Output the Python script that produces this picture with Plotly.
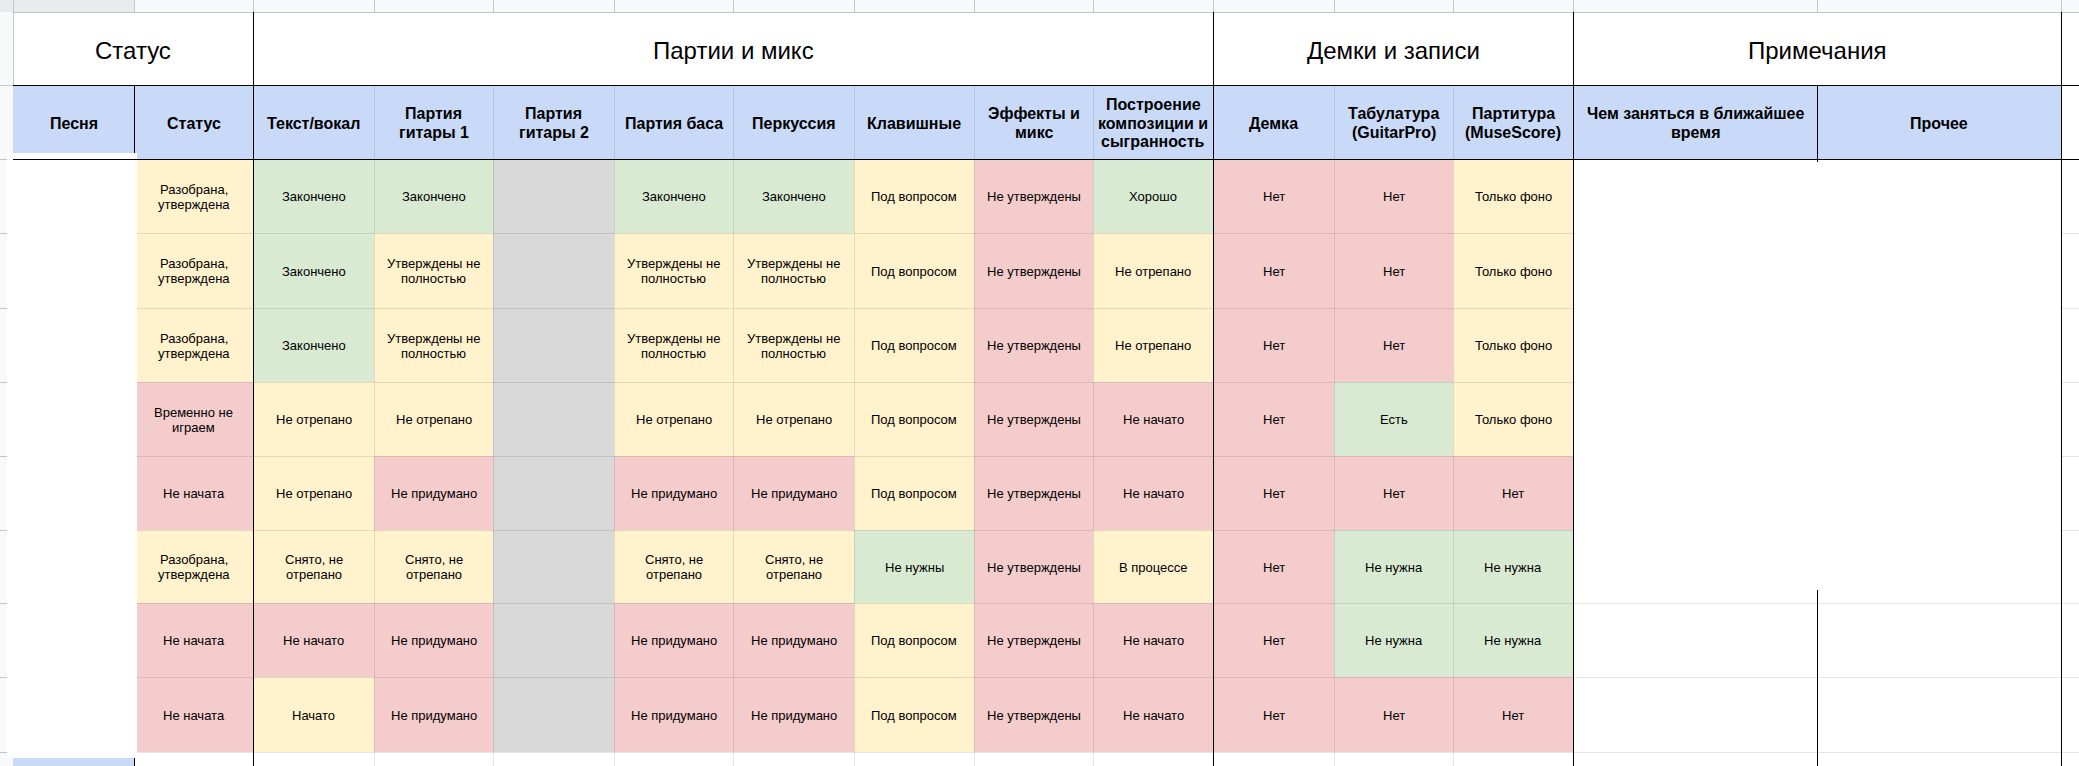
import plotly.graph_objects as go

# ---------------- data ----------------
col_letters = ["A", "B", "C", "D", "E", "F", "G", "H", "I", "J", "K", "L", "M", "N", "O"]

group_titles = ["Статус", "Партии и микс", "Демки и записи", "Примечания"]
group_first_col = [0, 2, 10, 13]
group_last_col = [1, 9, 12, 14]

header_labels = [
    "Песня", "Статус", "Текст/вокал", "Партия\nгитары 1", "Партия\nгитары 2",
    "Партия баса", "Перкуссия", "Клавишные", "Эффекты и\nмикс",
    "Построение\nкомпозиции и\nсыгранность", "Демка", "Табулатура\n(GuitarPro)",
    "Партитура\n(MuseScore)", "Чем заняться в ближайшее\nвремя", "Прочее",
]

song_col = ["", "", "", "", "", "", "", ""]
status_col = ["Разобрана,\nутверждена", "Разобрана,\nутверждена", "Разобрана,\nутверждена",
              "Временно не\nиграем", "Не начата", "Разобрана,\nутверждена", "Не начата", "Не начата"]
vocal_col = ["Закончено", "Закончено", "Закончено", "Не отрепано", "Не отрепано",
             "Снято, не\nотрепано", "Не начато", "Начато"]
guitar1_col = ["Закончено", "Утверждены не\nполностью", "Утверждены не\nполностью", "Не отрепано",
               "Не придумано", "Снято, не\nотрепано", "Не придумано", "Не придумано"]
guitar2_col = ["", "", "", "", "", "", "", ""]
bass_col = ["Закончено", "Утверждены не\nполностью", "Утверждены не\nполностью", "Не отрепано",
            "Не придумано", "Снято, не\nотрепано", "Не придумано", "Не придумано"]
perc_col = ["Закончено", "Утверждены не\nполностью", "Утверждены не\nполностью", "Не отрепано",
            "Не придумано", "Снято, не\nотрепано", "Не придумано", "Не придумано"]
keys_col = ["Под вопросом", "Под вопросом", "Под вопросом", "Под вопросом", "Под вопросом",
            "Не нужны", "Под вопросом", "Под вопросом"]
fx_col = ["Не утверждены", "Не утверждены", "Не утверждены", "Не утверждены",
          "Не утверждены", "Не утверждены", "Не утверждены", "Не утверждены"]
arrange_col = ["Хорошо", "Не отрепано", "Не отрепано", "Не начато", "Не начато",
               "В процессе", "Не начато", "Не начато"]
demo_col = ["Нет", "Нет", "Нет", "Нет", "Нет", "Нет", "Нет", "Нет"]
tab_col = ["Нет", "Нет", "Нет", "Есть", "Нет", "Не нужна", "Не нужна", "Нет"]
score_col = ["Только фоно", "Только фоно", "Только фоно", "Только фоно", "Нет",
             "Не нужна", "Не нужна", "Нет"]

data_columns = [song_col, status_col, vocal_col, guitar1_col, guitar2_col, bass_col, perc_col,
                keys_col, fx_col, arrange_col, demo_col, tab_col, score_col]

GREEN, YELLOW, RED, GRAY = "#d9ead3", "#fff2cc", "#f4cccc", "#d9d9d9"
status_fill = {
    "Закончено": GREEN, "Хорошо": GREEN, "Есть": GREEN, "Не нужны": GREEN, "Не нужна": GREEN,
    "Разобрана, утверждена": YELLOW, "Утверждены не полностью": YELLOW, "Под вопросом": YELLOW,
    "Не отрепано": YELLOW, "Только фоно": YELLOW, "Снято, не отрепано": YELLOW,
    "В процессе": YELLOW, "Начато": YELLOW,
    "Не утверждены": RED, "Нет": RED, "Временно не играем": RED, "Не начата": RED,
    "Не придумано": RED, "Не начато": RED,
}

# ---------------- layout constants ----------------
W, H = 2079, 766
col_edges = [13, 134, 253, 374, 493, 614, 733, 854, 974, 1093, 1213, 1334, 1453, 1573, 1817, 2061]
LETTER_BOTTOM = 12
TITLE_BOTTOM = 85
HEADER_BOTTOM = 159
row_edges = [159, 233, 308, 382, 456, 530, 603, 677, 752]
FONT = "Arial, Liberation Sans, Arimo, sans-serif"
GRID = "rgba(0,0,0,0.10)"
CHROME = "#c4c7c5"
BLUE = "#c9daf8"

shapes = []
annotations = []


def rect(x0, y0, x1, y1, fill):
    shapes.append(dict(type="rect", xref="x", yref="y", x0=x0, y0=y0, x1=x1, y1=y1,
                       fillcolor=fill, line=dict(width=0), layer="above"))


def line(x0, y0, x1, y1, color, width=1):
    shapes.append(dict(type="line", xref="x", yref="y", x0=x0, y0=y0, x1=x1, y1=y1,
                       line=dict(color=color, width=width), layer="above"))


def text_block(xc, yc, txt, size, bold=False, spacing=15):
    lines = txt.split("\n")
    n = len(lines)
    for i, ln in enumerate(lines):
        y = yc + (i - (n - 1) / 2) * spacing
        annotations.append(dict(
            x=xc, y=y, xref="x", yref="y", text=("<b>%s</b>" % ln) if bold else ln,
            showarrow=False, xanchor="center", yanchor="middle",
            font=dict(family=FONT, size=size, color="#000000")))


# background
rect(0, 0, W, H, "#ffffff")

# column-letter header strip
rect(0, 0, W, LETTER_BOTTOM, "#f8f9fa")
rect(col_edges[0], 0, col_edges[1], LETTER_BOTTOM, "#e8eaed")
rect(0, 0, col_edges[0], LETTER_BOTTOM, "#e8eaed")
for xe in col_edges:
    line(xe + 0.5, 0, xe + 0.5, LETTER_BOTTOM, CHROME)
line(0, LETTER_BOTTOM + 0.5, W, LETTER_BOTTOM + 0.5, CHROME)
for i, letter in enumerate(col_letters):
    annotations.append(dict(x=(col_edges[i] + col_edges[i + 1]) / 2, y=-3, xref="x", yref="y",
                            text=letter, showarrow=False, xanchor="center", yanchor="middle",
                            font=dict(family=FONT, size=11, color="#5f6368")))

# row gutter
rect(0, LETTER_BOTTOM, col_edges[0], H, "#f8f9fa")
line(col_edges[0] + 0.5, 0, col_edges[0] + 0.5, H, CHROME)
for ye in [TITLE_BOTTOM] + row_edges:
    line(0, ye + 0.5, col_edges[0], ye + 0.5, CHROME)

# header row (blue)
rect(col_edges[0], TITLE_BOTTOM, col_edges[-1], HEADER_BOTTOM, BLUE)

# data cells
for c, column in enumerate(data_columns):
    for r, val in enumerate(column):
        key = val.replace("\n", " ")
        fill = status_fill.get(key, GRAY if c == 4 else "#ffffff")
        rect(col_edges[c], row_edges[r], col_edges[c + 1], row_edges[r + 1], fill)

# spare row under the table: column A cell is highlighted
rect(col_edges[0], row_edges[-1], col_edges[1], H, BLUE)

# gridlines inside A..M
table_right = col_edges[13]
for xe in col_edges[1:13]:
    line(xe + 0.5, TITLE_BOTTOM, xe + 0.5, H, GRID)
for ye in row_edges[1:]:
    line(col_edges[0], ye + 0.5, table_right, ye + 0.5, GRID)
# gridlines in the notes area (rows 7-8 separate) and at the right margin
for ye in row_edges[6:]:
    line(table_right, ye + 0.5, W, ye + 0.5, GRID)
for ye in row_edges[1:6]:
    line(col_edges[-1], ye + 0.5, W, ye + 0.5, GRID)
for xe in col_edges[13:]:
    line(xe + 0.5, row_edges[-1], xe + 0.5, H, GRID)

# hidden song-name block
rect(7, 153, 137, 758, "#ffffff")

# black borders
line(col_edges[0], TITLE_BOTTOM + 0.5, W, TITLE_BOTTOM + 0.5, "#000000")
line(col_edges[0], HEADER_BOTTOM + 0.5, W, HEADER_BOTTOM + 0.5, "#000000")
for gi in range(1, len(group_first_col)):
    xe = col_edges[group_first_col[gi]]
    line(xe + 0.5, LETTER_BOTTOM, xe + 0.5, H, "#000000")
line(col_edges[-1] + 0.5, LETTER_BOTTOM, col_edges[-1] + 0.5, H, "#000000")
line(col_edges[1] + 0.5, TITLE_BOTTOM, col_edges[1] + 0.5, 153, "#000000")
line(col_edges[1] + 0.5, 758, col_edges[1] + 0.5, H, "#000000")
line(col_edges[14] + 0.5, TITLE_BOTTOM, col_edges[14] + 0.5, 162, "#000000")
line(col_edges[14] + 0.5, 590, col_edges[14] + 0.5, H, "#000000")

# group titles
for t, a, b in zip(group_titles, group_first_col, group_last_col):
    text_block((col_edges[a] + col_edges[b + 1]) / 2, 50, t, 24)

# header labels
for c, lab in enumerate(header_labels):
    text_block((col_edges[c] + col_edges[c + 1]) / 2, (TITLE_BOTTOM + HEADER_BOTTOM) / 2 + 1,
               lab, 16, bold=True, spacing=18.8)

# cell texts
for c, column in enumerate(data_columns):
    for r, val in enumerate(column):
        if val:
            text_block((col_edges[c] + col_edges[c + 1]) / 2,
                       (row_edges[r] + row_edges[r + 1]) / 2 + 0.5, val, 13, spacing=15)

fig = go.Figure()
fig.add_trace(go.Scatter(x=[0, W], y=[0, H], mode="markers", marker=dict(opacity=0),
                         hoverinfo="skip", showlegend=False))
fig.update_layout(
    width=W, height=H, margin=dict(l=0, r=0, t=0, b=0),
    paper_bgcolor="#ffffff", plot_bgcolor="#ffffff",
    xaxis=dict(range=[0, W], visible=False, fixedrange=True),
    yaxis=dict(range=[H, 0], visible=False, fixedrange=True),
    shapes=shapes, annotations=annotations, showlegend=False,
)
fig.write_html("out.html", config={"displayModeBar": False},
               post_script="document.body.style.margin='0px';document.body.style.overflow='hidden';")
